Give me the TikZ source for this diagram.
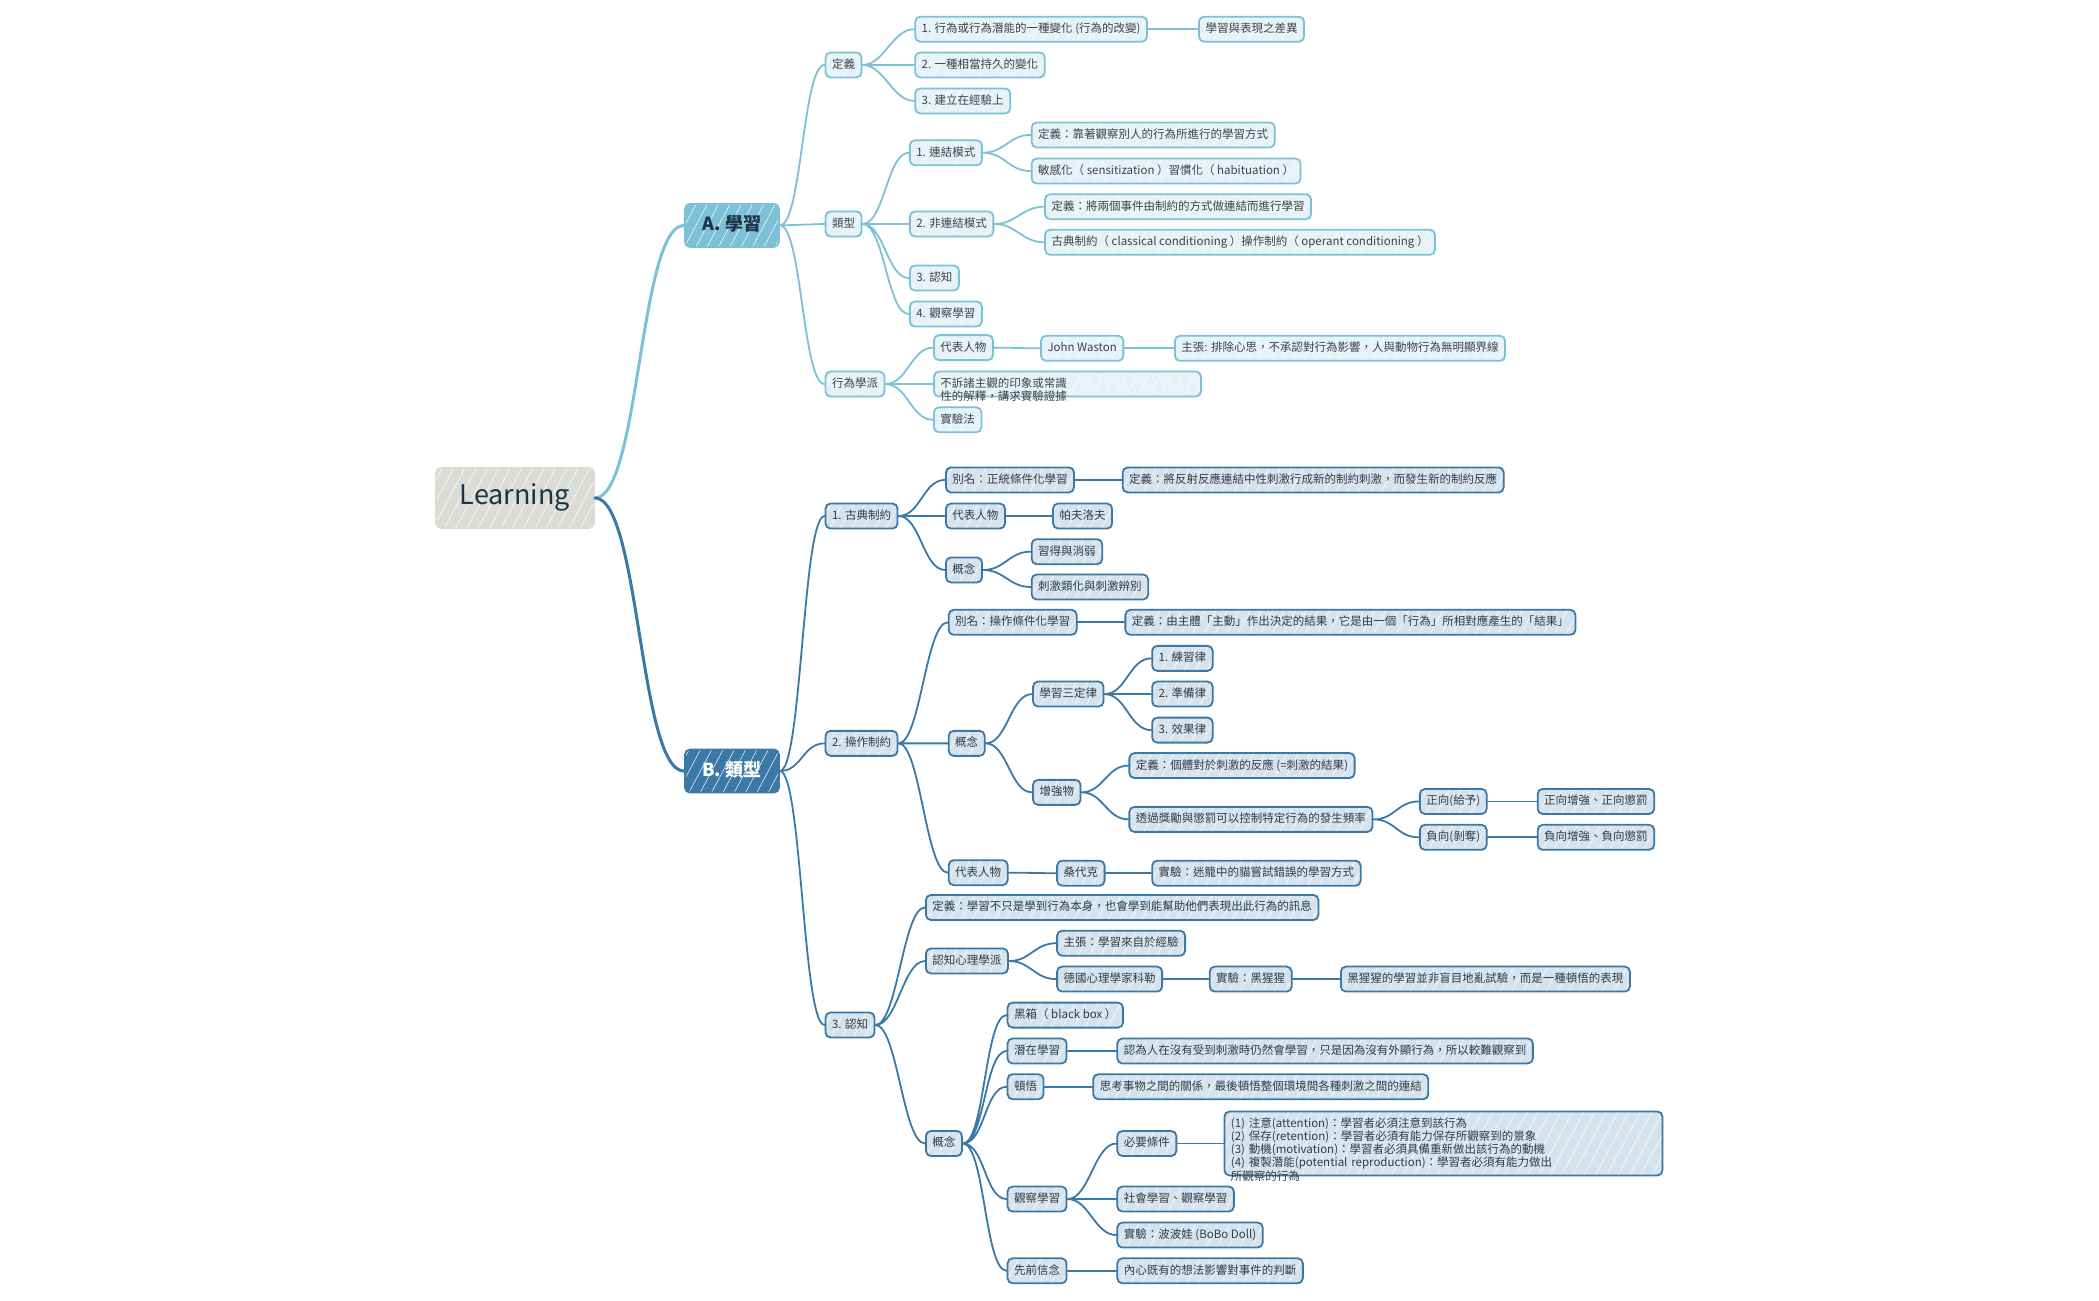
\documentclass[tikz,border=0pt]{standalone}
\usepackage{fontspec}
\setmainfont{Noto Sans CJK TC}
\usepackage{xcolor}
\usetikzlibrary{patterns.meta}

\definecolor{lineA}{HTML}{7CC1D7}
\definecolor{fillA}{HTML}{E5F2F7}
\definecolor{lineB}{HTML}{3A78A5}
\definecolor{fillB}{HTML}{D6E3ED}
\definecolor{rootfill}{HTML}{DCDCD6}
\definecolor{rootink}{HTML}{1B3347}
\definecolor{inkA}{HTML}{3C4448}
\definecolor{inkB}{HTML}{2F3D49}

\tikzset{
	hatch/.style={preaction={pattern={Lines[angle=62,distance=10pt,line width=.5pt]}, pattern color=white}},
	box/.style={rectangle, rounded corners=5pt, anchor=west,
			line width=1.8pt, inner xsep=6.5pt, inner ysep=6.5pt,
			text height=9.5pt, text depth=2.5pt,
			font=\fontsize{11.5}{13.3}\selectfont},
	subA/.style={preaction={fill=fillA}, hatch, box, draw=lineA, text=inkA},
	subB/.style={preaction={fill=fillB}, hatch, box, draw=lineB, text=inkB},
	mainA/.style={preaction={fill=lineA}, hatch, box, draw=lineA, text=rootink,
			minimum width=94pt, minimum height=43pt, text height=13pt, text depth=3pt,
			font=\fontsize{18}{20}\selectfont\bfseries},
	mainB/.style={preaction={fill=lineB}, hatch, box, draw=lineB, text=white,
			minimum width=94pt, minimum height=43pt, text height=13pt, text depth=3pt,
			font=\fontsize{18}{20}\selectfont\bfseries},
	rootnode/.style={preaction={fill=rootfill}, hatch, box, draw=rootfill, text=rootink,
			minimum width=158pt, minimum height=60pt, text height=19pt, text depth=5.5pt,
			font=\fontsize{27}{30}\selectfont},
	link/.style={line width=1.8pt, line cap=round,
			to path={.. controls ([xshift=#1]\tikztostart) and ([xshift=-#1]\tikztotarget) .. (\tikztotarget)}},
	link/.default=22pt,
	linkA/.style={link, draw=lineA},
	linkB/.style={link, draw=lineB}
}

\begin{document}
\begin{tikzpicture}[x=1.3386pt,y=-1.3386pt]

	\useasboundingbox (0,0) rectangle (1568,971.2);

	% Root and the two main topics
	\node[rootnode] (learn) at (325,372) {Learning};
	\node[mainA] (study) at (511,168.4) {A. 學習};
	\node[mainB] (kinds) at (511,576) {B. 類型};

	% A. 學習
	\node[subA] (def) at (616,48.5) {定義};
	\node[subA] (def1) at (683,21.8) {1. 行為或行為潛能的一種變化 (行為的改變)};
	\node[subA] (gap) at (895,21.8) {學習與表現之差異};
	\node[subA] (def2) at (683,48.5) {2. 一種相當持久的變化};
	\node[subA] (def3) at (683,75.4) {3. 建立在經驗上};

	\node[subA] (type) at (616,167.3) {類型};
	\node[subA] (assoc) at (679,114.1) {1. 連結模式};
	\node[subA] (assocdef) at (770,100.8) {定義：靠著觀察別人的行為所進行的學習方式};
	\node[subA] (sens) at (770,127.8) {敏感化（ sensitization ）習慣化（ habituation ）};
	\node[subA] (nonassoc) at (679,167.3) {2. 非連結模式};
	\node[subA] (nondef) at (780,154.4) {定義：將兩個事件由制約的方式做連結而進行學習};
	\node[subA] (cond) at (780,181) {古典制約（ classical conditioning ）操作制約（ operant conditioning ）};
	\node[subA] (cogA) at (679,207.7) {3. 認知};
	\node[subA] (obsA) at (679,234.6) {4. 觀察學習};

	\node[subA] (behav) at (616,286.9) {行為學派};
	\node[subA] (rep) at (697,259.7) {代表人物};
	\node[subA] (watson) at (777,260.2) {John Waston};
	\node[subA] (claim) at (877,260.2) {主張: 排除心思，不承認對行為影響，人與動物行為無明顯界線};
	\node[subA, text width=254pt, align=left] (nosub) at (697,286.9) {不訴諸主觀的印象或常識\\性的解釋，講求實驗證據};
	\node[subA] (exper) at (697,313.6) {實驗法};

	% B. 類型 -- 1. 古典制約
	\node[subB] (classic) at (616,385.5) {1. 古典制約};
	\node[subB] (alias1) at (706,358.5) {別名：正統條件化學習};
	\node[subB] (alias1def) at (838,358.5) {定義：將反射反應連結中性刺激行成新的制約刺激，而發生新的制約反應};
	\node[subB] (rep1) at (706,385.5) {代表人物};
	\node[subB] (pavlov) at (786,385.5) {帕夫洛夫};
	\node[subB] (concept1) at (706,425.8) {概念};
	\node[subB] (extinct) at (770,412.1) {習得與消弱};
	\node[subB] (general) at (770,438.5) {刺激類化與刺激辨別};

	% B. 類型 -- 2. 操作制約
	\node[subB] (operant) at (616,555.3) {2. 操作制約};
	\node[subB] (alias2) at (708,464.9) {別名：操作條件化學習};
	\node[subB] (alias2def) at (840,464.9) {定義：由主體「主動」作出決定的結果，它是由一個「行為」所相對應產生的「結果」};
	\node[subB] (concept2) at (708,555.3) {概念};
	\node[subB] (laws) at (771,518.5) {學習三定律};
	\node[subB] (law1) at (860,491.8) {1. 練習律};
	\node[subB] (law2) at (860,518.5) {2. 準備律};
	\node[subB] (law3) at (860,545.4) {3. 效果律};
	\node[subB] (reinf) at (771,591.9) {增強物};
	\node[subB] (reinfdef) at (843,571.9) {定義：個體對於刺激的反應 (=刺激的結果)};
	\node[subB] (reward) at (843,612.1) {透過獎勵與懲罰可以控制特定行為的發生頻率};
	\node[subB] (pos) at (1060,598.7) {正向(給予)};
	\node[subB] (posx) at (1148,598.7) {正向增強、正向懲罰};
	\node[subB] (neg) at (1060,625.5) {負向(剝奪)};
	\node[subB] (negx) at (1148,625.5) {負向增強、負向懲罰};
	\node[subB] (rep2) at (708,651.9) {代表人物};
	\node[subB] (thorn) at (789,652.3) {桑代克};
	\node[subB] (cage) at (860,652.3) {實驗：迷籠中的貓嘗試錯誤的學習方式};

	% B. 類型 -- 3. 認知
	\node[subB] (cog) at (616,765.7) {3. 認知};
	\node[subB] (cogdef) at (691,677.9) {定義：學習不只是學到行為本身，也會學到能幫助他們表現出此行為的訊息};
	\node[subB] (school) at (691,717.9) {認知心理學派};
	\node[subB] (claim3) at (789,704.6) {主張：學習來自於經驗};
	\node[subB] (kohler) at (789,731.4) {德國心理學家科勒};
	\node[subB] (chimp) at (903,731.4) {實驗：黑猩猩};
	\node[subB] (chimpx) at (1001,731.4) {黑猩猩的學習並非盲目地亂試驗，而是一種頓悟的表現};
	\node[subB] (concept3) at (691,854.2) {概念};
	\node[subB] (blackbox) at (752,758.3) {黑箱（ black box ）};
	\node[subB] (latent) at (752,785.1) {潛在學習};
	\node[subB] (latentx) at (834,785.1) {認為人在沒有受到刺激時仍然會學習，只是因為沒有外顯行為，所以較難觀察到};
	\node[subB] (insight) at (752,811.8) {頓悟};
	\node[subB] (insightx) at (816,811.8) {思考事物之間的關係，最後頓悟整個環境間各種刺激之間的連結};
	\node[subB] (obs) at (752,895.7) {觀察學習};
	\node[subB] (need) at (834,854.2) {必要條件};
	\node[subB, text width=425pt, align=left, text depth=42.4pt, inner ysep=6pt] (needx) at (914,854.2)
		{(1) 注意(attention)：學習者必須注意到該行為\\
		 (2) 保存(retention)：學習者必須有能力保存所觀察到的景象\\
		 (3) 動機(motivation)：學習者必須具備重新做出該行為的動機\\
		 (4) 複製潛能(potential reproduction)：學習者必須有能力做出\\
		 所觀察的行為};
	\node[subB] (social) at (834,895.7) {社會學習、觀察學習};
	\node[subB] (bobo) at (834,922.6) {實驗：波波娃 (BoBo Doll)};
	\node[subB] (belief) at (752,949.3) {先前信念};
	\node[subB] (beliefx) at (834,949.3) {內心既有的想法影響對事件的判斷};

	% Connect the root
	\draw[linkA, link=45pt, line width=3pt] (learn.east) to (study.west);
	\draw[linkB, link=45pt, line width=3pt] (learn.east) to (kinds.west);

	% Connect branch A
	\draw[linkA] (study.east) to (def.west) (study.east) to (type.west) (study.east) to (behav.west);
	\draw[linkA] (def.east) to (def1.west) (def.east) to (def2.west) (def.east) to (def3.west);
	\draw[linkA] (def1.east) to (gap.west);
	\draw[linkA] (type.east) to (assoc.west) (type.east) to (nonassoc.west) (type.east) to (cogA.west) (type.east) to (obsA.west);
	\draw[linkA] (assoc.east) to (assocdef.west) (assoc.east) to (sens.west);
	\draw[linkA] (nonassoc.east) to (nondef.west) (nonassoc.east) to (cond.west);
	\draw[linkA] (behav.east) to (rep.west) (behav.east) to (nosub.west) (behav.east) to (exper.west);
	\draw[linkA] (rep.east) to (watson.west);
	\draw[linkA] (watson.east) to (claim.west);

	% Connect branch B
	\draw[linkB] (kinds.east) to (classic.west) (kinds.east) to (operant.west) (kinds.east) to (cog.west);
	\draw[linkB] (classic.east) to (alias1.west) (classic.east) to (rep1.west) (classic.east) to (concept1.west);
	\draw[linkB] (alias1.east) to (alias1def.west);
	\draw[linkB] (rep1.east) to (pavlov.west);
	\draw[linkB] (concept1.east) to (extinct.west) (concept1.east) to (general.west);
	\draw[linkB] (operant.east) to (alias2.west) (operant.east) to (concept2.west) (operant.east) to (rep2.west);
	\draw[linkB] (alias2.east) to (alias2def.west);
	\draw[linkB] (concept2.east) to (laws.west) (concept2.east) to (reinf.west);
	\draw[linkB] (laws.east) to (law1.west) (laws.east) to (law2.west) (laws.east) to (law3.west);
	\draw[linkB] (reinf.east) to (reinfdef.west) (reinf.east) to (reward.west);
	\draw[linkB] (reward.east) to (pos.west) (reward.east) to (neg.west);
	\draw[linkB] (pos.east) to (posx.west);
	\draw[linkB] (neg.east) to (negx.west);
	\draw[linkB] (rep2.east) to (thorn.west);
	\draw[linkB] (thorn.east) to (cage.west);
	\draw[linkB] (cog.east) to (cogdef.west) (cog.east) to (school.west) (cog.east) to (concept3.west);
	\draw[linkB] (school.east) to (claim3.west) (school.east) to (kohler.west);
	\draw[linkB] (kohler.east) to (chimp.west);
	\draw[linkB] (chimp.east) to (chimpx.west);
	\draw[linkB] (concept3.east) to (blackbox.west) (concept3.east) to (latent.west) (concept3.east) to (insight.west)
		(concept3.east) to (obs.west) (concept3.east) to (belief.west);
	\draw[linkB] (latent.east) to (latentx.west);
	\draw[linkB] (insight.east) to (insightx.west);
	\draw[linkB] (obs.east) to (need.west) (obs.east) to (social.west) (obs.east) to (bobo.west);
	\draw[linkB] (need.east) to (needx.west);
	\draw[linkB] (belief.east) to (beliefx.west);

\end{tikzpicture}
\end{document}
